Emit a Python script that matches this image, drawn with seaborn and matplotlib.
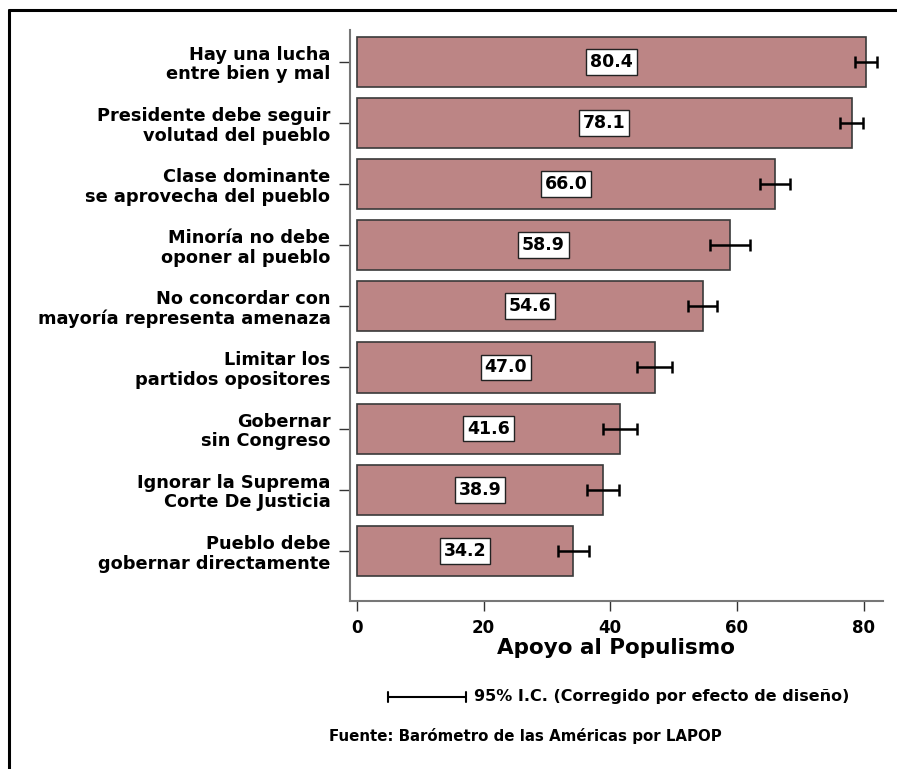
import numpy as np
import pandas as pd
import matplotlib
matplotlib.use("Agg")
import matplotlib.pyplot as plt
import matplotlib.transforms as mtransforms
from matplotlib.lines import Line2D
import seaborn as sns

# Data
labels = [
    "Hay una lucha\nentre bien y mal",
    "Presidente debe seguir\nvolutad del pueblo",
    "Clase dominante\nse aprovecha del pueblo",
    "Minoría no debe\noponer al pueblo",
    "No concordar con\nmayoría representa amenaza",
    "Limitar los\npartidos opositores",
    "Gobernar\nsin Congreso",
    "Ignorar la Suprema\nCorte De Justicia",
    "Pueblo debe\ngobernar directamente",
]
values = [80.4, 78.1, 66.0, 58.9, 54.6, 47.0, 41.6, 38.9, 34.2]
ci_half = [1.7, 1.8, 2.3, 3.1, 2.3, 2.7, 2.7, 2.5, 2.4]
x_ticks = [0, 20, 40, 60, 80]

sns.set_style("white")
plt.rcParams["font.family"] = ["DejaVu Sans"]
plt.rcParams["font.weight"] = "bold"
plt.rcParams["text.color"] = "black"
plt.rcParams["axes.labelcolor"] = "black"
plt.rcParams["xtick.color"] = "black"
plt.rcParams["ytick.color"] = "black"

df = pd.DataFrame({"item": labels, "value": values, "ci": ci_half})

fig = plt.figure(figsize=(8.97, 7.69), dpi=100)
ax = fig.add_axes([0.390, 0.2185, 0.594, 0.7425])

sns.barplot(data=df, x="value", y="item", orient="h", ax=ax,
            color="#bc8585", saturation=1, width=0.82,
            edgecolor="#3a3a3a", linewidth=1.2, errorbar=None)

# Error bars (95% CI)
ax.errorbar(df["value"], np.arange(len(df)), xerr=df["ci"], fmt="none",
            ecolor="black", elinewidth=1.8, capsize=4.5, capthick=1.8)

# Value boxes in the middle of each bar
for i, v in enumerate(values):
    ax.text(v / 2, i, f"{v:.1f}", ha="center", va="center",
            fontsize=12.5, fontweight="bold", color="black",
            bbox=dict(boxstyle="square,pad=0.22", fc="white", ec="#222222", lw=1))

ax.set_xlim(-1.1, 83)
ax.set_ylim(8.82, -0.52)
ax.set_xticks(x_ticks)
ax.set_xticklabels([str(t) for t in x_ticks], fontsize=12, fontweight="bold")
ax.set_yticks(range(len(labels)))
ax.set_yticklabels(labels, fontsize=12.8, fontweight="bold", linespacing=1.12)
ax.set_xlabel("Apoyo al Populismo", fontsize=15.5, fontweight="bold", labelpad=1)
ax.set_ylabel("")

# nudge category labels slightly upward, like the reference
offset = mtransforms.ScaledTranslation(0, 3 / 72, fig.dpi_scale_trans)
for lab in ax.get_yticklabels():
    lab.set_transform(lab.get_transform() + offset)

ax.tick_params(axis="y", left=True, length=8, width=1, color="#333333", pad=6)
ax.tick_params(axis="x", bottom=True, length=7, width=1, color="#333333", pad=6)
for s in ["top", "right"]:
    ax.spines[s].set_visible(False)
for s in ["left", "bottom"]:
    ax.spines[s].set_color("#777777")
    ax.spines[s].set_linewidth(1.5)

# Legend for the error bar
fig.add_artist(Line2D([388 / 897, 466 / 897], [1 - 697 / 769] * 2, color="black", lw=1.5))
for xc in [388, 466]:
    fig.add_artist(Line2D([xc / 897] * 2, [1 - 692 / 769, 1 - 702 / 769], color="black", lw=1.5))
fig.text(474 / 897, 1 - 697 / 769, "95% I.C. (Corregido por efecto de diseño)",
         ha="left", va="center", fontsize=11.5, fontweight="bold")
fig.text(525 / 897, 1 - 736 / 769, "Fuente: Barómetro de las Américas por LAPOP",
         ha="center", va="center", fontsize=10.8, fontweight="bold")

# Frame lines (top and left)
fig.add_artist(Line2D([9 / 897, 1], [1 - 10 / 769] * 2, color="black", lw=2.2))
fig.add_artist(Line2D([9 / 897] * 2, [1 - 10 / 769, 0], color="black", lw=2.2))

fig.savefig("out.png", dpi=100)
